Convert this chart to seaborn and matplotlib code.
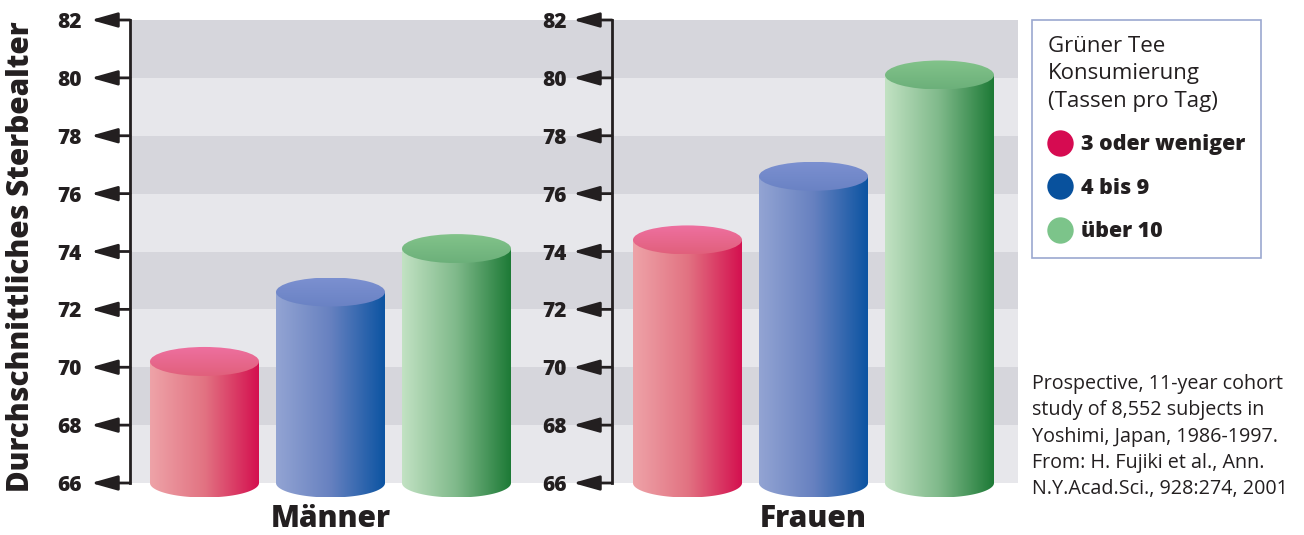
import numpy as np
import pandas as pd
import matplotlib
matplotlib.use('Agg')
import matplotlib.pyplot as plt
import seaborn as sns
from matplotlib.path import Path
from matplotlib.patches import PathPatch, Ellipse
from matplotlib.colors import LinearSegmentedColormap
from matplotlib.lines import Line2D

# ---------------- data ----------------
groups = ['Männer', 'Frauen']
categories = ['3 oder weniger', '4 bis 9', 'über 10']
maenner = [70.2, 72.6, 74.1]
frauen = [74.4, 76.6, 80.1]
yticks = [66, 68, 70, 72, 74, 76, 78, 80, 82]
ylabel = 'Durchschnittliches Sterbealter'
legend_title = 'Grüner Tee\nKonsumierung\n(Tassen pro Tag)'
note = ('Prospective, 11-year cohort\nstudy of 8,552 subjects in\n'
        'Yoshimi, Japan, 1986-1997.\nFrom: H. Fujiki et al., Ann.\n'
        'N.Y.Acad.Sci., 928:274, 2001')

# ---------------- style ----------------
legend_colors = ['#d60b51', '#08519d', '#7cc48a']
side_colors = [['#eea3a8', '#e27382', '#d4104f'],
               ['#93a4d3', '#6781c0', '#0c54a2'],
               ['#c2e2c3', '#7fb98a', '#1d7a36']]
cap_colors = [['#e1607c', '#ee70a0'],
              ['#6a82c4', '#7b90d0'],
              ['#6cb07a', '#82c38a']]
band_dark = '#d6d6dc'
band_light = '#e7e7eb'
ink = '#231f20'
heavy = 800

sns.set_style('white')
plt.rcParams['font.family'] = ['Open Sans', 'DejaVu Sans']

W, H = 1304, 535
fig = plt.figure(figsize=(W / 100, H / 100), dpi=100)
fig.patch.set_facecolor('white')

y_top_px, y66_px = 20.0, 483.0
ppu = (y66_px - y_top_px) / 16.0
ymin = 65.3
y_bot_px = y66_px + (66 - ymin) * ppu
spacing_px = 126.0
ry = 14.5 / ppu

def fy(py):
    return 1 - py / H

axes_spec = [(130.0, 612.0, 204.5), (612.0, 1018.0, 687.5)]
values_all = [maenner, frauen]

for gi, (left_px, right_px, c0_px) in enumerate(axes_spec):
    axw = right_px - left_px
    ax = fig.add_axes([left_px / W, fy(y_bot_px), axw / W, (y_bot_px - y_top_px) / H])
    ax.set_facecolor('none')
    df = pd.DataFrame({'Konsum': categories, 'Alter': values_all[gi]})
    sns.barplot(data=df, x='Konsum', y='Alter', hue='Konsum', palette=legend_colors,
                legend=False, width=0.865, saturation=1, ax=ax)
    bars = sorted(list(ax.patches), key=lambda p: p.get_x())
    geo = []
    for p in bars:
        geo.append((p.get_x(), p.get_width(), p.get_y() + p.get_height()))
        p.remove()

    # background bands
    for k in range(len(yticks) - 1):
        col = band_light if k % 2 == 0 else band_dark
        ax.axhspan(yticks[k], yticks[k + 1], color=col, zorder=0, lw=0)

    base = yticks[0]
    for i, (x0, w, top) in enumerate(geo):
        c = x0 + w / 2
        th = np.linspace(np.pi, 2 * np.pi, 80)
        vx = list(c + w / 2 * np.cos(th)) + [c + w / 2, c - w / 2, c - w / 2]
        vy = list(base + ry * np.sin(th)) + [top, top, base]
        side = PathPatch(Path(np.column_stack([vx, vy])), transform=ax.transData,
                         facecolor='none', edgecolor='none')
        cm_side = LinearSegmentedColormap.from_list('s%d' % i, side_colors[i])
        im = ax.imshow(np.linspace(0, 1, 256)[None, :], cmap=cm_side, aspect='auto',
                       extent=[c - w / 2, c + w / 2, base - ry, top], origin='lower',
                       interpolation='bilinear', zorder=2)
        im.set_clip_path(side)
        cap = Ellipse((c, top), w, 2 * ry, transform=ax.transData,
                      facecolor='none', edgecolor='none')
        cm_cap = LinearSegmentedColormap.from_list('c%d' % i, cap_colors[i])
        im2 = ax.imshow(np.linspace(0, 1, 64)[:, None], cmap=cm_cap, aspect='auto',
                        extent=[c - w / 2, c + w / 2, top - ry, top + ry], origin='lower',
                        interpolation='bilinear', zorder=3)
        im2.set_clip_path(cap)

    ax.set_xlim(-(c0_px - left_px) / spacing_px, -(c0_px - left_px) / spacing_px + axw / spacing_px)
    ax.set_ylim(ymin, yticks[-1])

    for s in ['top', 'right', 'bottom']:
        ax.spines[s].set_visible(False)
    ax.spines['left'].set_bounds(yticks[0], yticks[-1])
    ax.spines['left'].set_linewidth(2)
    ax.spines['left'].set_color(ink)
    ax.set_xlabel('')
    ax.set_ylabel('')
    ax.tick_params(axis='x', length=0, labelbottom=False)
    ax.set_yticks(yticks, labels=[str(t) for t in yticks], fontweight=heavy, fontsize=15,
                  color=ink)
    ax.tick_params(axis='y', length=0, pad=34.5 if gi == 0 else 32.5)
    for v in yticks:
        ax.annotate('', xy=(-39 / axw, v), xytext=(0, v),
                    xycoords=('axes fraction', 'data'), textcoords=('axes fraction', 'data'),
                    arrowprops=dict(arrowstyle='-|>,head_length=1.6,head_width=0.45',
                                    color=ink, lw=2, shrinkA=0, shrinkB=0),
                    annotation_clip=False)
    ax.text(1, 66 - (519 - y66_px) / ppu, groups[gi], ha='center', va='center',
            fontsize=21.5, fontweight=heavy, color=ink, clip_on=False)

fig.text(21 / W, fy(257), ylabel, rotation=90, ha='center', va='center',
         fontsize=21.3, fontweight=heavy, color=ink)

handles = [Line2D([], [], ls='', marker='o', markersize=19, markerfacecolor=c,
                  markeredgecolor='none') for c in legend_colors]
leg = fig.legend(handles, categories, title=legend_title, loc='upper left',
                 bbox_to_anchor=(1032 / W, fy(20)), borderaxespad=0, frameon=True,
                 fancybox=False, edgecolor='#9ba8d0', framealpha=1,
                 prop={'weight': heavy, 'size': 15.4}, title_fontproperties={'size': 16},
                 alignment='left', borderpad=0.75, labelspacing=1.05, handletextpad=0.45,
                 handlelength=1.1)
leg.get_frame().set_linewidth(1.2)
for t in leg.get_texts():
    t.set_color(ink)
leg.get_title().set_color(ink)
leg.get_title().set_linespacing(1.4)

fig.text(1032 / W, fy(374), note, ha='left', va='top', fontsize=14.2, color=ink,
         linespacing=1.42)

fig.savefig('out.png', dpi=100, facecolor='white')
